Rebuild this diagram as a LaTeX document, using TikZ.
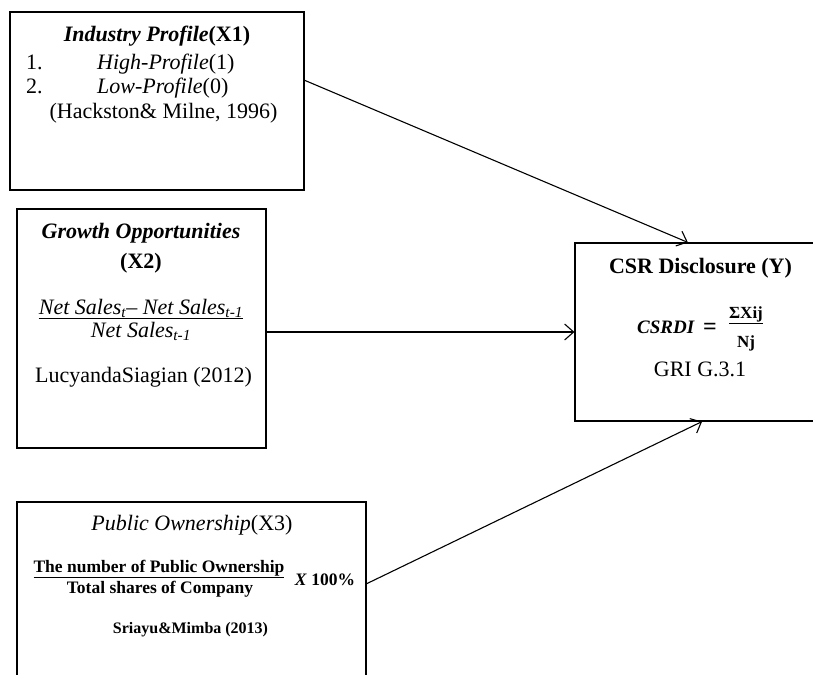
\documentclass[tikz,border=0pt]{standalone}
\usepackage{fontspec}
\setmainfont{Liberation Serif}
\usetikzlibrary{arrows.meta}
\usetikzlibrary{positioning}

\begin{document}
\begin{tikzpicture}[x=1pt, y=-1pt,
        box/.style={draw, line width=1.1pt, inner sep=0pt},
        txt/.style={inner sep=0pt, anchor=base, font=\fontsize{22}{25}\selectfont},
        lefttxt/.style={txt, anchor=base west},
        formula/.style={inner sep=0pt, anchor=base, font=\fontsize{17.5}{20}\selectfont\bfseries},
        link/.style={line width=1.1pt, -{Straight Barb[length=9pt,width=16pt,line width=1.1pt]}}]
                \clip (0,0) rectangle (813,674);
                % boxes
                \node[box, minimum width=294pt, minimum height=178pt] (x1) at (157,101) {};
                \node[box, minimum width=249pt, minimum height=239pt] (x2) at (141.5,328.5) {};
                \node[box, minimum width=349pt, minimum height=188pt] (x3) at (191.5,596) {};
                \node[box, minimum width=251pt, minimum height=178pt] (y) at (700.5,332) {};
                % industry profile
                \node[txt] (x1title) at (157,42) {\textbf{\textit{Industry Profile}(X1)}};
                \node[lefttxt] (x1one) at (26,70) {1.};
                \node[lefttxt] (x1high) at (97,70) {\textit{High-Profile}(1)};
                \node[lefttxt] (x1two) at (26,94) {2.};
                \node[lefttxt] (x1low) at (97,94) {\textit{Low-Profile}(0)};
                \node[txt] (x1ref) at (163.5,119) {(Hackston\& Milne, 1996)};
                % growth opportunities
                \node[txt] (x2title) at (141,238) {\textbf{\textit{Growth Opportunities}}};
                \node[txt] (x2var) at (141,268) {\textbf{(X2)}};
                \node[txt] (x2num) at (141,314) {\textit{Net Sales}\textsubscript{\textit{t}}– \textit{Net Sales}\textsubscript{\textit{t-1}}};
                \draw[line width=0.9pt] ([yshift=-4.5pt]x2num.base west) -- ([yshift=-4.5pt]x2num.base east);
                \node[txt] (x2den) at (141,337) {\textit{Net Sales}\textsubscript{\textit{t-1}}};
                \node[txt] (x2ref) at (143.5,382) {LucyandaSiagian (2012)};
                % public ownership
                \node[txt] (x3title) at (192,530) {\textit{Public Ownership}(X3)};
                \node[formula] (x3num) at (159,572) {\underline{The number of Public Ownership}};
                \node[formula] (x3den) at (160,593) {Total shares of Company};
                \node[formula] (x3pct) at (325,585) {\textit{X} 100\%};
                \node[formula, font=\fontsize{16}{18}\selectfont\bfseries] (x3ref) at (190.5,633) {Sriayu\&Mimba (2013)};
                % csr disclosure
                \node[txt] (ytitle) at (700.5,273) {\textbf{CSR Disclosure (Y)}};
                \node[formula, font=\fontsize{19}{21}\selectfont\bfseries] (ycsr) at (666,333) {\textit{CSRDI}};
                \node[formula, font=\fontsize{24}{26}\selectfont\bfseries] (yeq) at (710,334) {=};
                \node[formula, font=\fontsize{17}{19}\selectfont\bfseries] (ynum) at (746,318) {\underline{ΣXij}};
                \node[formula, font=\fontsize{17}{19}\selectfont\bfseries] (yden) at (746,347) {Nj};
                \node[txt] (ygri) at (700,376) {GRI G.3.1};
                % connectors
                \draw[link] (x1.8) -- (y.98);
                \draw[link] (y.west -| x2.east) -- (y.west);
                \draw[link] (x3.4) -- (y.271);
            \end{tikzpicture}
\end{document}
